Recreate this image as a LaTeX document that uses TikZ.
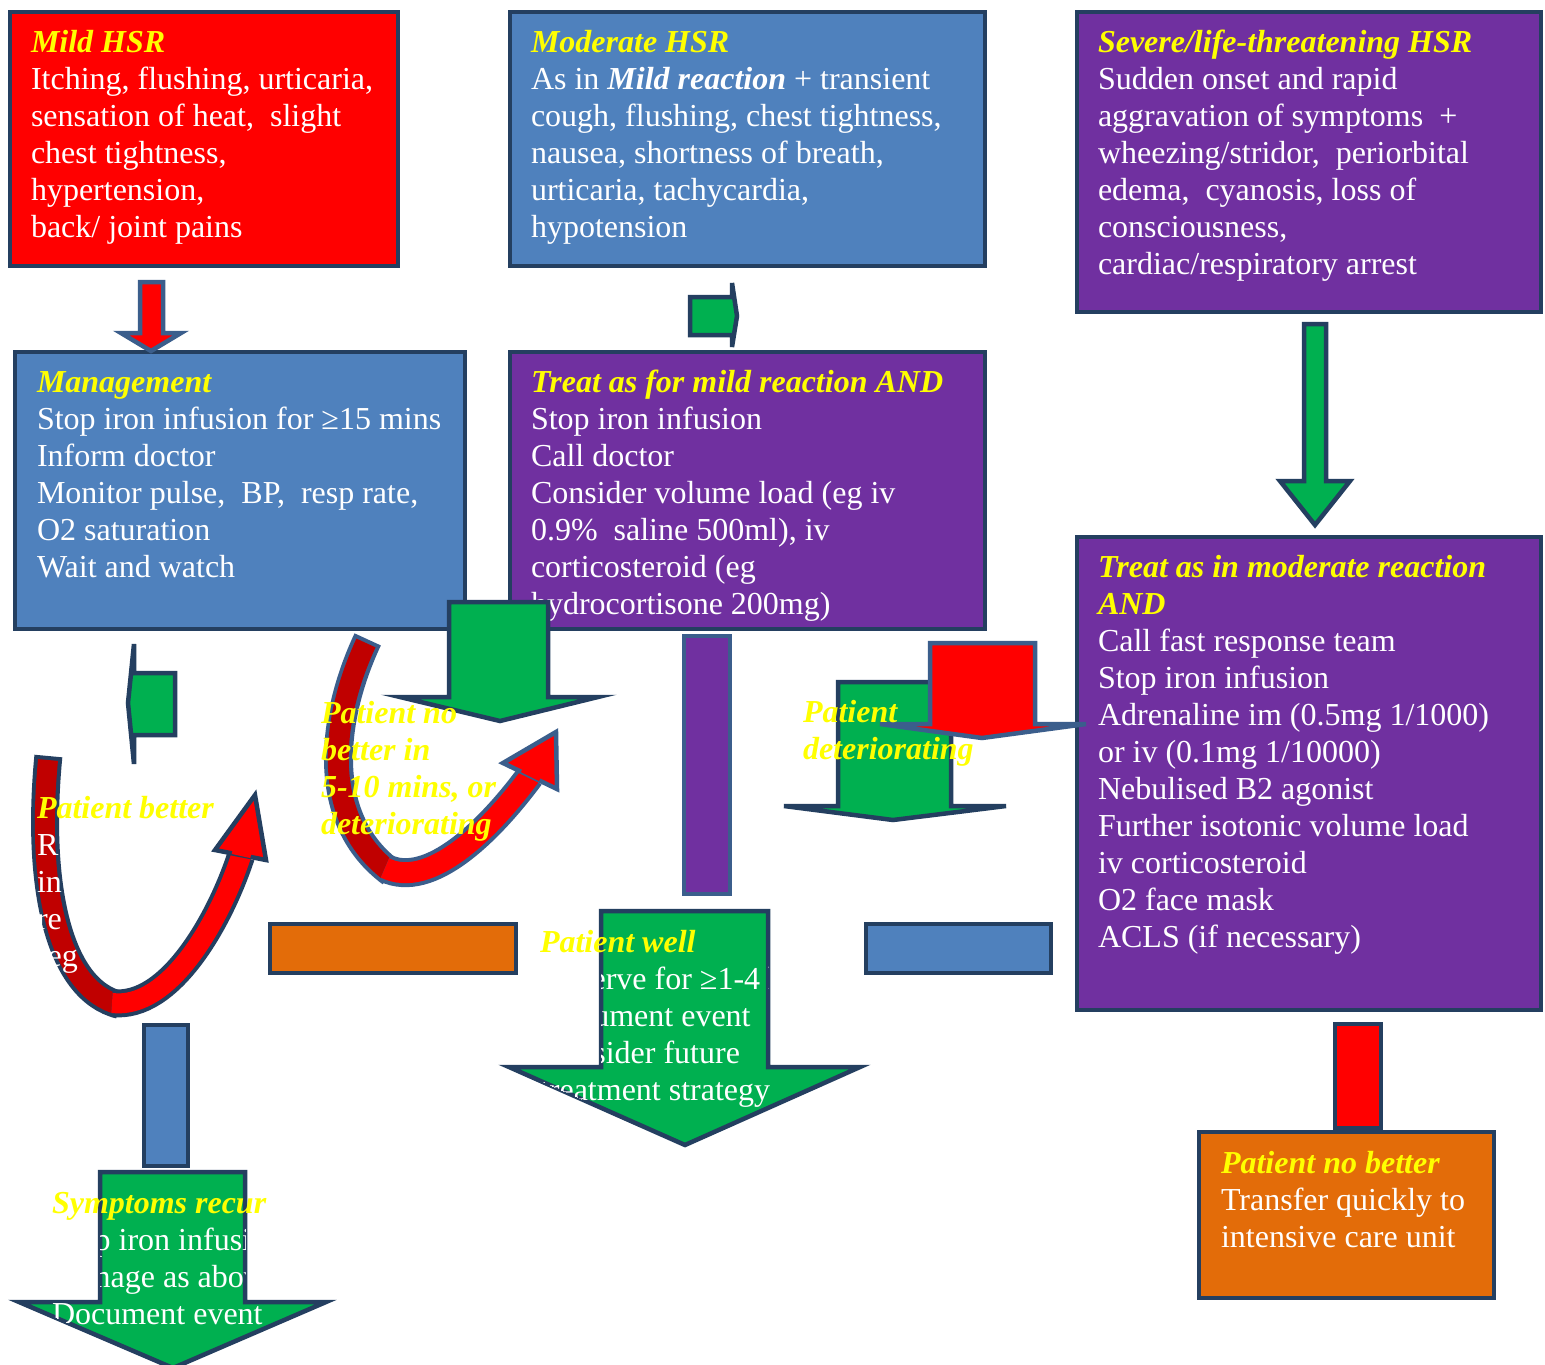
\documentclass[tikz,border=0pt]{standalone}
\usepackage{fontspec}
\setmainfont{Liberation Serif}
\definecolor{navy}{HTML}{243F60}
\definecolor{steel}{HTML}{3B5E8C}
\definecolor{myred}{HTML}{FF0000}
\definecolor{dred}{HTML}{C00000}
\definecolor{myblue}{HTML}{4F81BD}
\definecolor{mypurple}{HTML}{7030A0}
\definecolor{mygreen}{HTML}{00B050}
\definecolor{myorange}{HTML}{E36C09}
\definecolor{myyellow}{HTML}{FFFF00}
\newcommand\fs{\fontsize{32}{37}\selectfont}
\newcommand\hd[1]{\textcolor{myyellow}{\bfseries\itshape #1}}
\newcommand\mybox[6]{\node[box, fill=#2, minimum width={#5-#3}, minimum height={#6-#4}] (#1) at (#3,#4) {};}
% style, x1, x2, ytop, ybase, headleft, headright, xtip, ytip
\newcommand\blkdown[9]{\draw[#1] (#2,#4) -- (#3,#4) -- (#3,#5) -- (#7,#5) -- (#8,#9) -- (#6,#5) -- (#2,#5) -- cycle;}
\begin{document}
\begin{tikzpicture}[x=1pt,y=-1pt, line join=miter,
  box/.style={draw=navy, line width=4.5pt, inner sep=0pt, outer sep=0pt, anchor=north west},
  txt/.style={anchor=north west, inner sep=0pt, outer sep=0pt, align=left, font=\fs, text=white},
  lab/.style={anchor=north west, inner sep=0pt, outer sep=0pt, align=left, font=\fs\bfseries\itshape, text=myyellow},
  shp/.style={draw=navy, line width=4.5pt},
  shps/.style={draw=steel, line width=4.5pt}]
\fill[white] (0,0) rectangle (1545,1365);
\useasboundingbox (0,0) rectangle (1545,1365);

% ---- top boxes
\mybox{mild}{myred}{10}{12}{398}{266}
\node[txt] (mildtxt) at (31,27) {\strut\hd{Mild HSR}\\Itching, flushing, urticaria,\\sensation of heat,\ \ slight\\chest tightness,\\hypertension,\\back/ joint pains};
\mybox{moderate}{myblue}{510}{12}{985}{266}
\node[txt] (modtxt) at (531,27) {\strut\hd{Moderate HSR}\\As in \textbf{\textit{Mild reaction}} + transient\\cough, flushing, chest tightness,\\nausea, shortness of breath,\\urticaria, tachycardia,\\hypotension};
\mybox{severe}{mypurple}{1077}{12}{1541}{312}
\node[txt] (sevtxt) at (1098,27) {\strut\hd{Severe/life-threatening HSR}\\Sudden onset and rapid\\aggravation of symptoms\ \ +\\wheezing/stridor,\ \ periorbital\\edema,\ \ cyanosis, loss of\\consciousness,\\cardiac/respiratory arrest};

% ---- second row
\mybox{manage}{myblue}{15}{352}{465}{629}
\node[txt] (managetxt) at (37,367) {\strut\hd{Management}\\Stop iron infusion for ≥15 mins\\Inform doctor\\Monitor pulse,\ \ BP,\ \ resp rate,\\O2 saturation\\Wait and watch};
\mybox{treatmild}{mypurple}{510}{352}{985}{629}
\node[txt] (treatmildtxt) at (531,367) {\strut\hd{Treat as for mild reaction AND}\\Stop iron infusion\\Call doctor\\Consider volume load (eg iv\\0.9\%\ \ saline 500ml), iv\\corticosteroid (eg\\hydrocortisone 200mg)};

% ---- small arrows at top
\blkdown{shps, fill=myred}{140}{163}{282}{333}{121}{181}{151}{351}
\draw[shp, fill=mygreen] (690,297) -- (732,297) -- (732,283) -- (737,316) -- (732,347) -- (732,335) -- (690,335) -- cycle;
\blkdown{shp, fill=mygreen}{1304}{1326}{324}{481}{1280}{1350}{1315}{525}

% ---- treat moderate
\mybox{treatmod}{mypurple}{1077}{537}{1541}{1010}
\node[txt] (treatmodtxt) at (1098,552) {\strut\hd{Treat as in moderate reaction}\\\hd{AND}\\Call fast response team\\Stop iron infusion\\Adrenaline im (0.5mg 1/1000)\\or iv (0.1mg 1/10000)\\Nebulised B2 agonist\\Further isotonic volume load\\iv corticosteroid\\O2 face mask\\ACLS (if necessary)};

% ---- big green mid arrow
\blkdown{shp, fill=mygreen}{449}{548}{602}{697}{400}{598}{500}{721}

% ---- left small green arrow
\draw[shp, fill=mygreen] (175,673) -- (134,673) -- (134,644) -- (128,703) -- (134,764) -- (134,735) -- (175,735) -- cycle;

% ---- left U-turn arrow
\draw[navy, line width=28pt, shorten <=-4pt, shorten >=-8pt] (48,760) .. controls (36,885) and (58,990) .. (112,1003);
\draw[dred, line width=20pt, shorten >=-8pt] (48,760) .. controls (36,885) and (58,990) .. (112,1003);
\draw[navy, line width=28pt] (112,1003) .. controls (170,1010) and (220,920) .. (241,856);
\draw[myred, line width=20pt] (112,1003) .. controls (170,1010) and (220,920) .. (241,856);
\draw[shp, fill=myred] (215,850) -- (255,795) -- (266,860) -- cycle;
\draw[myred, line width=19pt] (241,856) -- (242,851.5);

% ---- middle U-turn arrow
\draw[steel, line width=29pt, shorten <=-4pt, shorten >=-8pt] (366,643) .. controls (330,720) and (320,820) .. (385,868);
\draw[dred, line width=21pt, shorten >=-8pt] (366,643) .. controls (330,720) and (320,820) .. (385,868);
\draw[steel, line width=29pt] (385,868) .. controls (430,890) and (490,830) .. (530,776);
\draw[myred, line width=21pt] (385,868) .. controls (430,890) and (490,830) .. (530,776);
\draw[shps, fill=myred] (503,763) -- (556,732) -- (557,789) -- cycle;
\draw[myred, line width=20pt] (530,776.5) -- (532,772.5);

% ---- purple bar
\draw[shps, fill=mypurple] (684,636) rectangle (730,894);

% ---- deteriorating arrows
\blkdown{shp, fill=mygreen}{838}{951}{682}{806}{784}{1006}{893}{820}
\blkdown{shps, fill=myred}{930}{1035}{643}{724}{880}{1086}{982}{738}

% ---- orange and blue bars
\draw[shp, fill=myorange] (270,924) rectangle (516,973);
\draw[shp, fill=myblue] (866,924) rectangle (1051,973);

% ---- patient well arrow
\blkdown{shp, fill=mygreen}{601}{768}{911}{1067}{509}{860}{685}{1145}
\begin{scope}
\clip (601,911) -- (768,911) -- (768,1067) -- (860,1067) -- (685,1145) -- (509,1067) -- (601,1067) -- cycle;
\node[txt] (welltxt) at (540,964) {\strut Observe for ≥1-4 h\\Document event\\Consider future\\treatment strategy};
\end{scope}

% ---- symptoms recur
\draw[shp, fill=myblue] (144,1025) rectangle (188,1166);
\blkdown{shp, fill=mygreen}{100}{245}{1172}{1302}{19}{326}{173}{1368}
\begin{scope}
\clip (100,1172) -- (245,1172) -- (245,1302) -- (326,1302) -- (173,1368) -- (19,1302) -- (100,1302) -- cycle;
\node[txt] (recurtxt) at (52,1225) {\strut Stop iron infusion\\Manage as above\\Document event};
\end{scope}

% ---- patient no better
\draw[shp, fill=myred] (1335,1024) rectangle (1381,1128);
\mybox{icu}{myorange}{1199}{1132}{1494}{1298}
\node[txt] (icutxt) at (1221,1148) {\strut\hd{Patient no better}\\Transfer quickly to\\intensive care unit};

% ---- floating labels
\node[lab] (better) at (37,793) {\strut Patient better};
\node[txt] (bettertxt) at (37,830) {\strut R\\in\\re\\(eg};
\node[lab] (nobetter) at (321,698) {\strut Patient no\\better in\\5-10 mins, or\\deteriorating};
\node[lab] (deter) at (803,697) {\strut Patient\\deteriorating};
\node[lab] (well) at (540,927) {\strut Patient well};
\node[lab] (recur) at (52,1188) {\strut Symptoms recur};
\end{tikzpicture}
\end{document}
